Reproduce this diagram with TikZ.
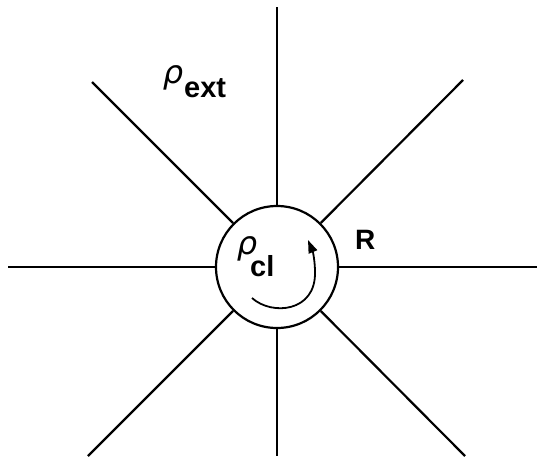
\documentclass[tikz,border=0pt]{standalone}
\usepackage{fontspec}
\setmainfont{Liberation Sans}
\newfontfamily\greekfont{DejaVu Sans}
\usetikzlibrary{arrows.meta}
\begin{document}
\begin{tikzpicture}[x=1pt,y=-1pt,
  ray/.style={line width=2.2pt},
  rholbl/.style={inner sep=0pt, font=\greekfont\itshape\fontsize{32pt}{34pt}\selectfont},
  sublbl/.style={inner sep=0pt, anchor=base west, font=\bfseries\fontsize{29pt}{31pt}\selectfont}]
\useasboundingbox (0,0) rectangle (537,456);
\node[circle, draw, line width=2.2pt, minimum size=122pt, inner sep=0pt] (cl) at (277,267) {};
\coordinate (n) at (277,7);
\coordinate (s) at (277,456);
\coordinate (w) at (8,267);
\coordinate (e) at (537,267);
\coordinate (nw) at (92,82);
\coordinate (ne) at (463,80);
\coordinate (sw) at (88,456);
\coordinate (se) at (465,456);
\foreach \p in {n,s,w,e,nw,ne,sw,se} \draw[ray] (cl) -- (\p);
\node[rholbl] (rhoext) at (173,78) {ρ};
\node[sublbl] (ext) at (184,97) {ext};
\node[rholbl] (rhocl) at (247,248.5) {ρ};
\node[sublbl] (clsub) at (250,276) {cl};
\node[sublbl, font=\bfseries\fontsize{28pt}{30pt}\selectfont] (R) at (355,249) {R};
\draw[line width=1.8pt, -{Triangle[length=13pt,width=9pt]}]
  (252,298) .. controls (272,316) and (316,312) .. (315,272)
  .. controls (315,262) and (313,252) .. (308,240);
\end{tikzpicture}
\end{document}
